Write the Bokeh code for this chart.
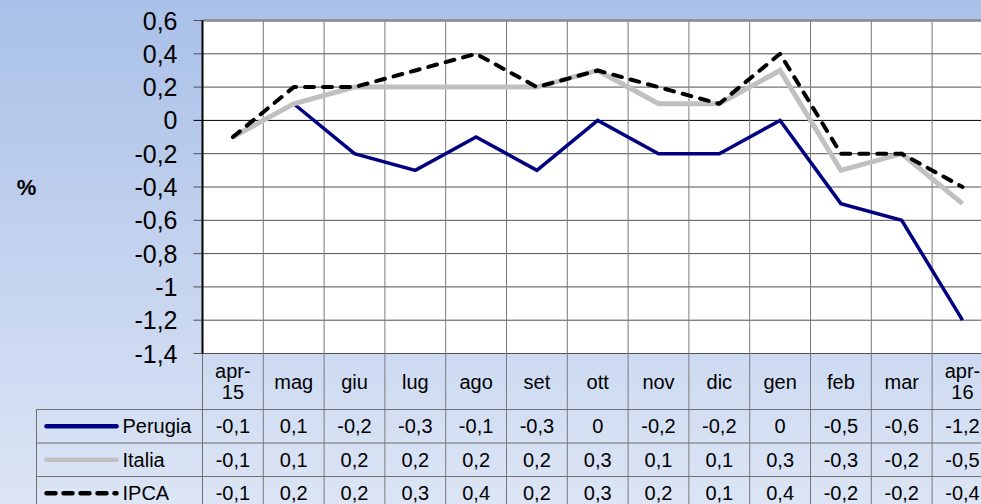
from bokeh.plotting import figure
from bokeh.embed import file_html
from bokeh.resources import INLINE
from bokeh.core.properties import value
from bokeh.models import Range1d

# ---------------- data ----------------
months = ["apr-\n15", "mag", "giu", "lug", "ago", "set", "ott", "nov", "dic",
          "gen", "feb", "mar", "apr-\n16"]
perugia = [-0.1, 0.1, -0.2, -0.3, -0.1, -0.3, 0.0, -0.2, -0.2, 0.0, -0.5, -0.6, -1.2]
italia = [-0.1, 0.1, 0.2, 0.2, 0.2, 0.2, 0.3, 0.1, 0.1, 0.3, -0.3, -0.2, -0.5]
ipca = [-0.1, 0.2, 0.2, 0.3, 0.4, 0.2, 0.3, 0.2, 0.1, 0.4, -0.2, -0.2, -0.4]
series_names = ["Perugia", "Italia", "IPCA"]
y_ticks = [0.6, 0.4, 0.2, 0.0, -0.2, -0.4, -0.6, -0.8, -1.0, -1.2, -1.4]
y_tick_labels = ["0,6", "0,4", "0,2", "0", "-0,2", "-0,4", "-0,6", "-0,8",
                 "-1", "-1,2", "-1,4"]
y_axis_label = "%"

# ---------------- layout (canvas pixels) ----------------
W, H = 981, 504
FRAME_L = 202      # canvas x of plot area left edge
COL = 60.8         # px per category
Y_TOP = 20         # canvas y of top tick
UNIT = 166.5       # px per 1.0 unit
HEADER_H = 56
ROW_H = 33.5
TABLE_L = 36       # canvas x of table's left edge

YMAX, YMIN = y_ticks[0], y_ticks[-1]
x0 = -0.5 - FRAME_L / COL
x1 = x0 + W / COL
y1 = YMAX + Y_TOP / UNIT
y0 = y1 - H / UNIT


def dx(px):
    return px / COL


def dy(px):
    return px / UNIT


def fmt(v):
    if abs(v) < 1e-9:
        return "0"
    return f"{v:.1f}".replace(".", ",")


FONT = value("Liberation Sans")

p = figure(width=W, height=H, x_range=Range1d(x0, x1), y_range=Range1d(y0, y1),
           output_backend="svg", toolbar_location=None, min_border=0,
           border_fill_color=None, background_fill_color=None,
           outline_line_color=None)
p.xaxis.visible = False
p.yaxis.visible = False
p.grid.visible = False
p.styles = {"background": "linear-gradient(to bottom, #a9c0e8 0%, #c3d2ee 50%, #dce5f5 100%)"}

n = len(months)
xs = list(range(n))
plot_left = -0.5
table_left = x0 + dx(TABLE_L)

# plot area
p.quad(left=[plot_left], right=[x1 + 1], bottom=[YMIN], top=[YMAX],
       fill_color="white", line_color=None)

# horizontal grid + tick marks
for t in y_ticks:
    col = "#000000" if abs(t) < 1e-9 else "#505050"
    p.segment(x0=[plot_left - dx(9)], y0=[t], x1=[x1 + 1], y1=[t],
              line_color=col, line_width=1)

# vertical grid (category boundaries) through plot and table
for i in range(1, n + 1):
    p.segment(x0=[i - 0.5], y0=[YMAX], x1=[i - 0.5], y1=[y0 - 1],
              line_color="#7a7a7a", line_width=1)

# table horizontal lines and left edge
header_bottom = YMIN - dy(HEADER_H)
row_tops = [header_bottom - k * dy(ROW_H) for k in range(len(series_names))]
for rt in row_tops:
    p.segment(x0=[table_left], y0=[rt], x1=[x1 + 1], y1=[rt],
              line_color="#707070", line_width=1)
p.segment(x0=[table_left], y0=[header_bottom], x1=[table_left], y1=[y0 - 1],
          line_color="#707070", line_width=1)
p.segment(x0=[plot_left], y0=[YMIN], x1=[plot_left], y1=[y0 - 1],
          line_color="#707070", line_width=1)

# frame: top border and left axis line
p.segment(x0=[plot_left], y0=[YMAX], x1=[x1 + 1], y1=[YMAX],
          line_color="#888888", line_width=2.5)
p.segment(x0=[plot_left], y0=[YMIN], x1=[plot_left], y1=[YMAX],
          line_color="#000000", line_width=2)

# series lines
p.line(xs, perugia, line_color="#000080", line_width=3.5, line_join="miter")
p.line(xs, italia, line_color="#c0c0c0", line_width=5, line_join="miter")
p.line(xs, ipca, line_color="#000000", line_width=4, line_dash="9 9",
       line_cap="round", line_join="round")

# y tick labels
p.text(x=[plot_left - dx(25)] * len(y_ticks), y=y_ticks, text=y_tick_labels,
       text_align="right", text_baseline="middle", text_font=FONT,
       text_font_size="25px", text_color="#000000")

# y axis label
p.text(x=[x0 + dx(26)], y=[-0.4], text=[y_axis_label], text_align="center",
       text_baseline="middle", text_font=FONT, text_font_size="22px",
       text_font_style="bold", text_color="#000000")

# header row (categories)
p.text(x=xs, y=[YMIN - dy(HEADER_H / 2)] * n, text=months, text_align="center",
       text_baseline="middle", text_font=FONT, text_font_size="20px",
       text_line_height=0.95, text_color="#000000")

# table rows
series_vals = [perugia, italia, ipca]
styles = [dict(line_color="#000080", line_width=4.5),
          dict(line_color="#c0c0c0", line_width=4.5),
          dict(line_color="#000000", line_width=4.5, line_dash="9 8")]
key_l = x0 + dx(46)
key_r = x0 + dx(116)
label_x = x0 + dx(122)
for k, (name, vals, st) in enumerate(zip(series_names, series_vals, styles)):
    yc = row_tops[k] - dy(ROW_H / 2)
    p.line([key_l, key_r], [yc, yc], line_cap="round", **st)
    p.text(x=[label_x], y=[yc], text=[name], text_align="left",
           text_baseline="middle", text_font=FONT, text_font_size="20px",
           text_color="#000000")
    p.text(x=xs, y=[yc] * n, text=[fmt(v) for v in vals], text_align="center",
           text_baseline="middle", text_font=FONT, text_font_size="20px",
           text_color="#000000")

open("out.html", "w").write(file_html(p, INLINE))
